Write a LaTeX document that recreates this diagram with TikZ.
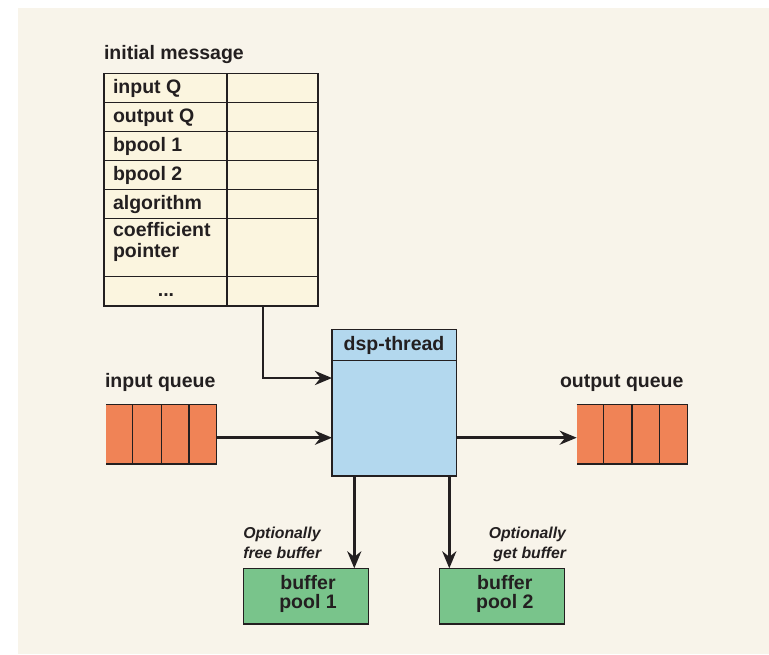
\documentclass[tikz,border=0pt]{standalone}
\usepackage{fontspec}
\setmainfont{Liberation Sans}
\usetikzlibrary{arrows.meta,calc}
\definecolor{paper}{HTML}{F8F4EA}
\definecolor{tablefill}{HTML}{FBF5DF}
\definecolor{ink}{HTML}{231F20}
\definecolor{qfill}{HTML}{F08356}
\definecolor{threadfill}{HTML}{B3D8EE}
\definecolor{poolfill}{HTML}{79C48B}
\begin{document}
\begin{tikzpicture}[x=1pt,y=-1pt,
  every node/.style={inner sep=0pt, outer sep=0pt, text=ink},
  big/.style={font=\fontsize{19.5}{19.3}\selectfont\bfseries},
  note/.style={font=\fontsize{15.8}{20}\selectfont\bfseries\itshape},
  cellL/.style={draw=ink, line width=1.4pt, fill=tablefill, minimum width=123, anchor=north west},
  cellR/.style={draw=ink, line width=1.4pt, fill=tablefill, minimum width=91, anchor=north west},
  queue/.style={fill=qfill, minimum width=110.7, minimum height=59.7},
  qline/.style={draw=ink, line width=1.4pt},
  pool/.style={draw=ink, line width=1.4pt, fill=poolfill, minimum width=125.2, minimum height=55.7},
  arr/.style={draw=ink, line width=2.9pt, -{Stealth[length=17pt,width=14pt,inset=5.5pt]}}]
\useasboundingbox (0,0) rectangle (769,654);
\fill[paper] (18,8) rectangle (769,654);

% initial message table
\node[big, anchor=base west] (title) at (104,59) {initial message};
\foreach \n/\t/\h in {1/73.3/29.4, 2/102.7/29, 3/131.7/29, 4/160.7/28.6, 5/189.3/29, 6/218.3/58.4, 7/276.7/29.3}{
  \node[cellL, minimum height=\h] (c\n) at (104,\t) {};
  \node[cellR, minimum height=\h] (v\n) at (227,\t) {};
}
\node[big, anchor=base west] (l1) at (113,93.5) {input Q};
\node[big, anchor=base west] (l2) at (113,122.7) {output Q};
\node[big, anchor=base west] (l3) at (113,151.7) {bpool 1};
\node[big, anchor=base west] (l4) at (113,180.5) {bpool 2};
\node[big, anchor=base west] (l5) at (113,209.3) {algorithm};
\node[big, anchor=base west] (l6a) at (113,236.7) {coefficient};
\node[big, anchor=base west] (l6b) at (113,257.7) {pointer};
\node[big, anchor=base] (l7) at (166,296.7) {...};

% dsp thread
\node[draw=ink, line width=1.4pt, fill=threadfill, minimum width=124.7, minimum height=146.5, anchor=north west] (dsp) at (332,329.3) {};
\coordinate (hdr) at (0,360.7);
\draw[ink, line width=1.4pt] (dsp.west |- hdr) -- (dsp.east |- hdr);
\node[big, anchor=base] (dsptitle) at (394,350) {dsp-thread};

% queues
\node[big, anchor=base west] (inqt) at (105,387.7) {input queue};
\node[big, anchor=base west] (outqt) at (560,387.7) {output queue};
\node[queue, anchor=north west] (inq) at (106,404.3) {};
\node[queue, anchor=north west] (outq) at (576.7,404.3) {};
\foreach \q in {inq,outq}{
  \draw[qline] (\q.north west) -- (\q.north east) -- (\q.south east) -- (\q.south west);
  \foreach \f in {0.24,0.5,0.75}
    \draw[qline] ($(\q.north west)!\f!(\q.north east)$) -- ($(\q.south west)!\f!(\q.south east)$);
}

% buffer pools
\node[pool] (pool1) at (306,596.2) {};
\node[pool] (pool2) at (501.8,596.2) {};
\node[big, align=center] (p1t) at ($(pool1.center)+(2,-2.6)$) {buffer\\pool 1};
\node[big, align=center] (p2t) at ($(pool2.center)+(3,-2.6)$) {buffer\\pool 2};
\node[note, anchor=base west] (n1a) at (243.3,538.3) {Optionally};
\node[note, anchor=base west] (n1b) at (243.3,558.3) {free buffer};
\node[note, anchor=base east] (n2a) at (566,538.3) {Optionally};
\node[note, anchor=base east] (n2b) at (566,558.3) {get buffer};

% connectors
\coordinate (tapx) at (263,0);
\coordinate (feed) at (0,378);
\coordinate (midy) at (0,437.7);
\coordinate (dx1) at (354.3,0);
\coordinate (dx2) at (449.3,0);
\draw[arr] (v7.south -| tapx) |- (dsp.west |- feed);
\draw[arr] (inq.east |- midy) -- (dsp.west |- midy);
\draw[arr] (dsp.east |- midy) -- (outq.west |- midy);
\draw[arr] (dsp.south -| dx1) -- (pool1.north -| dx1);
\draw[arr] (dsp.south -| dx2) -- (pool2.north -| dx2);
\end{tikzpicture}
\end{document}
